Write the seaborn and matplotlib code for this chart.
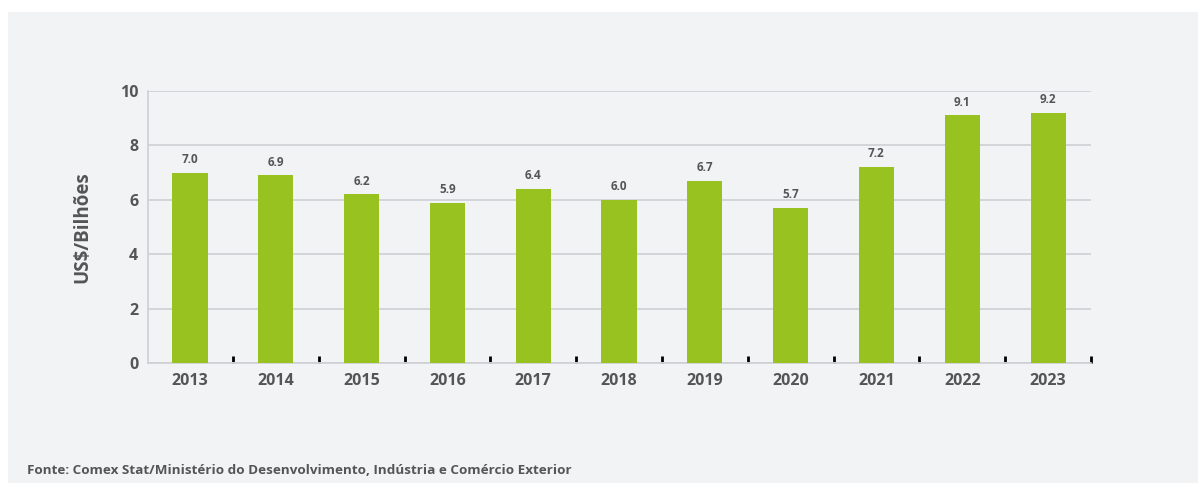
import matplotlib
matplotlib.use("Agg")
import matplotlib.pyplot as plt
from matplotlib.patches import Rectangle
import seaborn as sns
import pandas as pd

# Dados (US$ bilhões)
anos = ["2013", "2014", "2015", "2016", "2017", "2018", "2019", "2020", "2021", "2022", "2023"]
valores = [7.0, 6.9, 6.2, 5.9, 6.4, 6.0, 6.7, 5.7, 7.2, 9.1, 9.2]
y_ticks = [0, 2, 4, 6, 8, 10]

fonte = "Fonte: Comex Stat/Ministério do Desenvolvimento, Indústria e Comércio Exterior"

BAR_COLOR = "#97c21f"
TEXT_COLOR = "#555557"
GRID_COLOR = "#cfd0d3"
BG_COLOR = "#f2f3f5"

sns.set_style("white")
plt.rcParams["font.family"] = ["Open Sans", "DejaVu Sans"]

df = pd.DataFrame({"ano": anos, "valor": valores})

fig = plt.figure(figsize=(11.98, 4.83), dpi=100)
fig.patch.set_facecolor("white")
fig.patches.append(Rectangle((8 / 1198, 0), 1 - 8 / 1198, 1 - 12 / 483,
                             transform=fig.transFigure, facecolor=BG_COLOR,
                             edgecolor="none", zorder=-10))

ax = fig.add_axes([148 / 1198, 120 / 483, (1091 - 148) / 1198, (363 - 91) / 483])
ax.patch.set_alpha(0)

sns.barplot(data=df, x="ano", y="valor", color=BAR_COLOR, width=0.41,
            saturation=1, linewidth=0, edgecolor="none", ax=ax, zorder=3)

ax.set_ylim(0, 10)
ax.set_xlim(-0.49, 10.5)
ax.set_yticks(y_ticks)
ax.yaxis.grid(True, color=GRID_COLOR, linewidth=1.2, zorder=0)
ax.set_axisbelow(True)

for s in ["top", "right"]:
    ax.spines[s].set_visible(False)
for s in ["left", "bottom"]:
    ax.spines[s].set_color(GRID_COLOR)
    ax.spines[s].set_linewidth(1.2)

ax.tick_params(axis="both", which="major", length=0, labelsize=11.5,
               labelcolor=TEXT_COLOR, pad=7)
for lab in ax.get_xticklabels() + ax.get_yticklabels():
    lab.set_fontweight("bold")

# pequenas marcas entre as categorias
ax.set_xticks([i + 0.5 for i in range(len(anos))], minor=True)
ax.tick_params(axis="x", which="minor", bottom=True, direction="in", length=5,
               width=2, color="black")

for i, v in enumerate(valores):
    ax.text(i, v + 0.25, f"{v:.1f}", ha="center", va="bottom", fontsize=8.5,
            fontweight="bold", color=TEXT_COLOR)

ax.set_xlabel("")
ax.set_ylabel("US$/Bilhões", fontsize=13.5, fontweight="bold", color=TEXT_COLOR,
              labelpad=20)

fig.text(27 / 1198, 1 - 470 / 483, fonte, fontsize=9.7, fontweight="bold",
         color=TEXT_COLOR, ha="left", va="center")

fig.savefig("out.png", dpi=100, facecolor=fig.get_facecolor())
